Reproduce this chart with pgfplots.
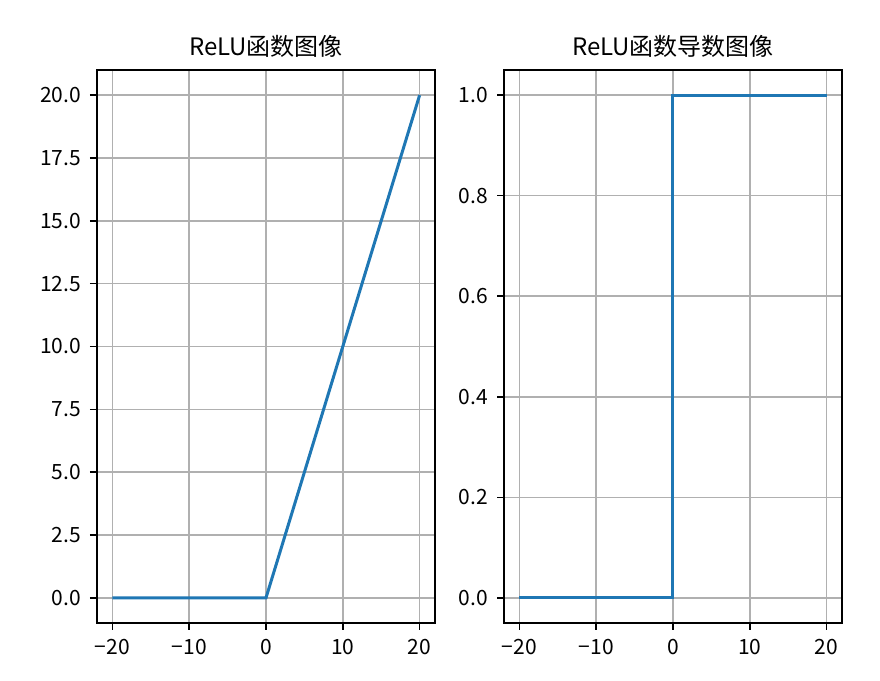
\documentclass[border=0pt]{standalone}
\usepackage{pgfplots}
\pgfplotsset{compat=1.18}
\usepackage{fontspec}
\setmainfont{Noto Sans CJK SC}
\definecolor{c0}{HTML}{1F77B4}
\definecolor{gridc}{HTML}{B0B0B0}
\pgfplotsset{
  mpl/.style={
    scale only axis, width=169pt, height=276.5pt, anchor=south west,
    axis line style={line width=0.8pt, black},
    grid=major, major grid style={line width=0.8pt, gridc},
    tick align=outside, tick pos=left,
    major tick length=3.5pt, every tick/.style={black, line width=0.8pt},
    xmin=-22, xmax=22,
    xtick={-20,-10,0,10,20},
    xticklabels={−20,−10,0,10,20},
    tick label style={font=\fontsize{10.5}{12}\selectfont},
    xticklabel style={yshift=-1pt},
    yticklabel style={xshift=-1pt},
    title style={font=\fontsize{12}{14}\selectfont, yshift=-3.5pt},
  },
}
\begin{document}
\begin{tikzpicture}
\path[use as bounding box] (0pt,0pt) rectangle (440pt,340.5pt);
\begin{axis}[mpl, at={(48.5pt,29pt)},
  ymin=-1, ymax=21,
  ytick={0,2.5,5,7.5,10,12.5,15,17.5,20},
  yticklabels={0.0,2.5,5.0,7.5,10.0,12.5,15.0,17.5,20.0},
  title={ReLU函数图像}]
\addplot[c0, line width=1.5pt] coordinates {(-20,0) (0,0) (20,20)};
\end{axis}
\begin{axis}[mpl, at={(252pt,29pt)},
  ymin=-0.05, ymax=1.05,
  ytick={0,0.2,0.4,0.6,0.8,1.0},
  yticklabels={0.0,0.2,0.4,0.6,0.8,1.0},
  title={ReLU函数导数图像}]
\addplot[c0, line width=1.5pt] coordinates {(-20,0) (0,0) (0,1) (20,1)};
\end{axis}
\end{tikzpicture}
\end{document}
